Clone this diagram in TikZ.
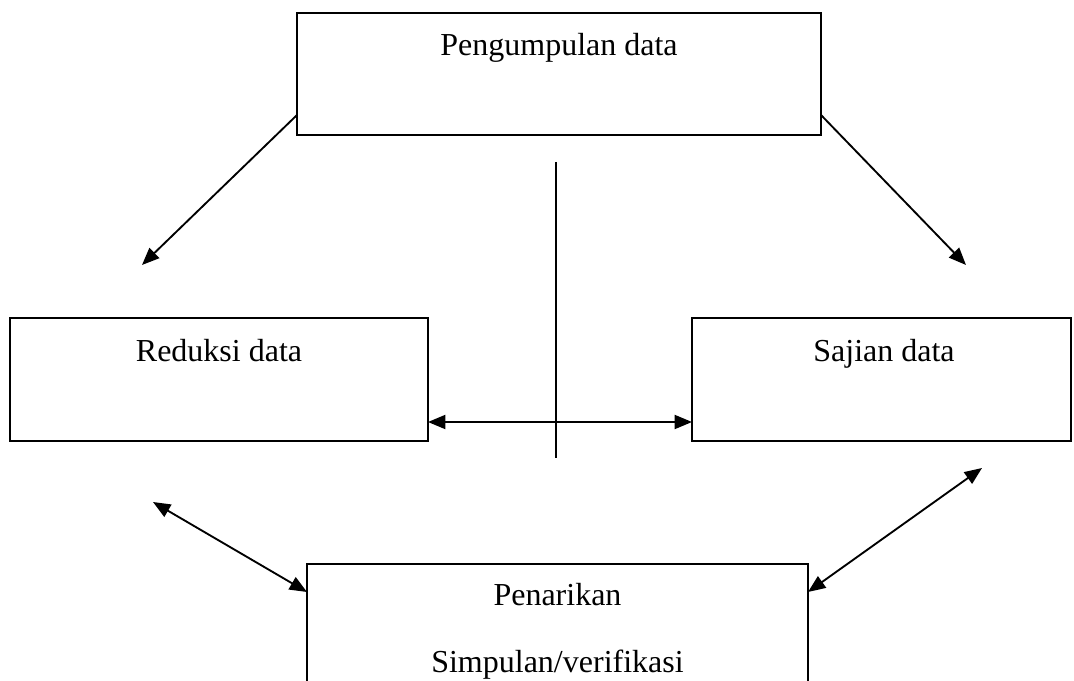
\documentclass[tikz,border=0pt]{standalone}
\usepackage{fontspec}
\setmainfont{Liberation Serif}
\usetikzlibrary{arrows.meta,calc}
\begin{document}
\begin{tikzpicture}[x=0.75pt,y=-0.75pt,
  box/.style={draw,line width=1.5pt,inner sep=0pt,outer sep=0pt,rectangle},
  lbl/.style={inner sep=0pt,font=\fontsize{24}{28}\selectfont,anchor=base},
  conn/.style={line width=1.4pt},
  tip/.style={},
  arr/.style={conn,-{Triangle[length=13pt,width=10.5pt]}},
  dbl/.style={conn,{Triangle[length=13pt,width=10.5pt]}-{Triangle[length=13pt,width=10.5pt]}}]
\useasboundingbox (0,0) rectangle (1074,681);
\clip (0,0) rectangle (1074,681);
% boxes
\node[box,minimum width=393pt,minimum height=91.5pt] (top) at (559,74) {};
\node[box,minimum width=313.5pt,minimum height=92.25pt] (red) at (219,379.5) {};
\node[box,minimum width=284.25pt,minimum height=92.25pt] (saj) at (881.5,379.5) {};
\node[box,minimum width=375.75pt,minimum height=117pt] (pen) at (557.5,642) {};
% texts
\node[lbl] (toptxt) at (559,56) {Pengumpulan data};
\node[lbl] (redtxt) at (219,361) {Reduksi data};
\node[lbl] (sajtxt) at (884,361) {Sajian data};
\node[lbl] (pentxt1) at (557.5,605) {Penarikan};
\node[lbl] (pentxt2) at (557.5,672) {Simpulan/verifikasi};
% free ends
\coordinate (tl) at ($(top.south west)+(0,-20)$);
\coordinate (tr) at ($(top.south east)+(0,-20)$);
\coordinate (tlend) at (142,265);
\coordinate (trend) at (966,265);
\coordinate (vtop) at (556,162);
\coordinate (vbot) at (556,458);
\coordinate (hl) at ($(red.south east)+(0,-19)$);
\coordinate (hr) at ($(saj.south west)+(0,-19)$);
\coordinate (blend) at (153,502);
\coordinate (brend) at (982,468);
\coordinate (pl) at ($(pen.north west)+(0,28)$);
\coordinate (pr) at ($(pen.north east)+(0,28)$);
% connectors
\draw[arr] (tl) -- (tlend);
\draw[arr] (tr) -- (trend);
\draw[conn] (vtop) -- (vbot);
\draw[dbl] (hl) -- (hr);
\draw[dbl] (blend) -- (pl);
\draw[dbl] (brend) -- (pr);
\end{tikzpicture}
\end{document}
